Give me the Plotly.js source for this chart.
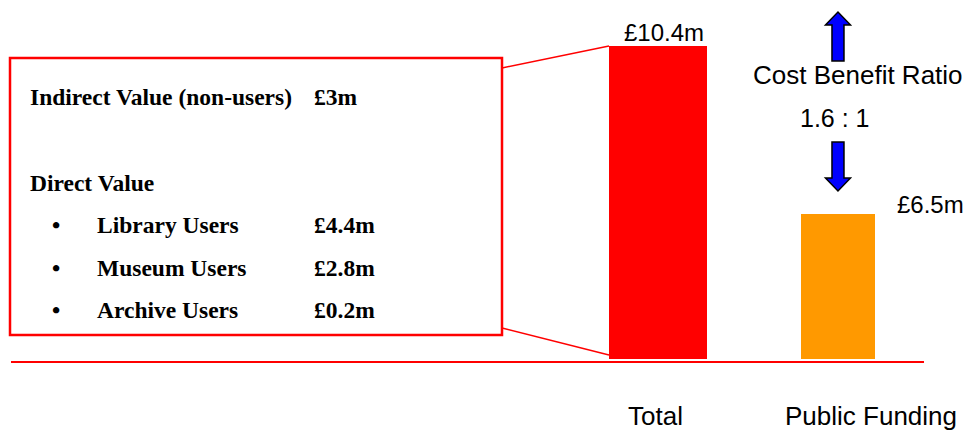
<!DOCTYPE html>
<html>
<head>
<meta charset="utf-8">
<script src="https://cdn.plot.ly/plotly-3.0.1.min.js"></script>
<style>html,body{margin:0;padding:0;background:#fff;}#chart{width:969px;height:430px;}</style>
</head>
<body>
<div id="chart"></div>
<script>
// ---- data ----
const categories = ["Total", "Public Funding"];
const values = [10.4, 6.5];
const barColors = ["#FF0000", "#FF9900"];
const indirectLabel = "Indirect Value (non-users)";
const indirectValue = 3;
const directHeading = "Direct Value";
const directItems = ["Library Users", "Museum Users", "Archive Users"];
const directValues = [4.4, 2.8, 0.2];
const ratioTitle = "Cost Benefit Ratio";
const ratioText = "1.6 : 1";

// ---- layout helpers ----
const W = 969, H = 430, MB = 71;
const PH = H - MB;              // plot height in px
const px = x => x / W;          // page x -> paper
const py = y => (PH - y) / PH;  // page y -> paper
const money = v => "£" + v + "m";

const sans = "Liberation Sans, Arial, sans-serif";
const serif = "Liberation Serif, Times New Roman, serif";

const trace = {
  type: "bar",
  x: categories,
  y: values,
  width: [0.544, 0.411],
  marker: {color: barColors, line: {width: 0}},
  hoverinfo: "x+y",
  showlegend: false
};

const annotations = [];
function txt(text, x, y, opts) {
  annotations.push(Object.assign({
    text: text, x: px(x), y: py(y), xref: "paper", yref: "paper",
    showarrow: false, xanchor: "center", yanchor: "middle",
    font: {family: sans, size: 25, color: "#000"}
  }, opts || {}));
}

// bar value labels
annotations.push({text: money(values[0]), x: categories[0], y: values[0], xref: "x", yref: "y",
  xanchor: "center", yanchor: "bottom", xshift: 6, yshift: -2, showarrow: false,
  font: {family: sans, size: 24, color: "#000"}});
annotations.push({text: money(values[1]), x: categories[1], y: values[1], xref: "x", yref: "y",
  xanchor: "center", yanchor: "middle", xshift: 93, yshift: 9, showarrow: false,
  font: {family: sans, size: 24, color: "#000"}});

// ratio text
txt(ratioTitle, 858, 75, {font: {family: sans, size: 26, color: "#000"}});
txt(ratioText, 835, 118, {font: {family: sans, size: 25, color: "#000"}});

// category labels
txt(categories[0], 655, 416, {font: {family: sans, size: 26, color: "#000"}});
txt(categories[1], 871, 416, {font: {family: sans, size: 26, color: "#000"}});

// box text
const bfont = {family: serif, size: 23.5, color: "#000"};
txt("<b>" + indirectLabel + "</b>", 28, 97, {xanchor: "left", font: bfont});
txt("<b>" + money(indirectValue) + "</b>", 312, 97, {xanchor: "left", font: bfont});
txt("<b>" + directHeading + "</b>", 28, 183, {xanchor: "left", font: bfont});
const rowY = [225, 268, 310];
directItems.forEach((it, i) => {
  txt("<b>•</b>", 56, rowY[i], {font: bfont});
  txt("<b>" + it + "</b>", 95, rowY[i], {xanchor: "left", font: bfont});
  txt("<b>" + money(directValues[i]) + "</b>", 312, rowY[i], {xanchor: "left", font: bfont});
});

const red = "#FF0000";
const shapes = [
  // breakdown box
  {type: "rect", xref: "paper", yref: "paper", x0: px(10), x1: px(502), y0: py(335), y1: py(58),
   line: {color: red, width: 2.5}, fillcolor: "rgba(0,0,0,0)"},
  // connector lines
  {type: "line", xref: "paper", yref: "paper", x0: px(502), y0: py(68), x1: px(609), y1: py(46),
   line: {color: red, width: 1.5}},
  {type: "line", xref: "paper", yref: "paper", x0: px(502), y0: py(328), x1: px(609), y1: py(355),
   line: {color: red, width: 1.5}},
  // baseline
  {type: "line", xref: "paper", yref: "paper", x0: px(11), x1: px(924), y0: py(362), y1: py(362),
   line: {color: red, width: 2}},
  // up arrow
  {type: "path", xref: "x", yref: "paper", xsizemode: "pixel", ysizemode: "pixel",
   xanchor: 1, yanchor: 0,
   path: "M -6 298 L 6 298 L 6 334 L 12.5 334 L 0 347 L -12.5 334 L -6 334 Z",
   fillcolor: "#0000FF", line: {color: "#000", width: 1.5}},
  // down arrow
  {type: "path", xref: "x", yref: "paper", xsizemode: "pixel", ysizemode: "pixel",
   xanchor: 1, yanchor: 0,
   path: "M -6 217 L 6 217 L 6 181 L 12.5 181 L 0 168 L -12.5 181 L -6 181 Z",
   fillcolor: "#0000FF", line: {color: "#000", width: 1.5}}
];

const layout = {
  width: W, height: H,
  margin: {l: 0, r: 0, t: 0, b: MB, pad: 0},
  paper_bgcolor: "#fff", plot_bgcolor: "#fff",
  xaxis: {type: "category", range: [-3.656, 1.728], showticklabels: false, showgrid: false,
          zeroline: false, showline: false, ticks: "", fixedrange: true},
  yaxis: {range: [3.126, 11.468], visible: false, showgrid: false, zeroline: false, fixedrange: true},
  bargap: 0,
  annotations: annotations,
  shapes: shapes,
  showlegend: false
};

Plotly.newPlot("chart", [trace], layout, {displayModeBar: false, staticPlot: true});
</script>
</body>
</html>
